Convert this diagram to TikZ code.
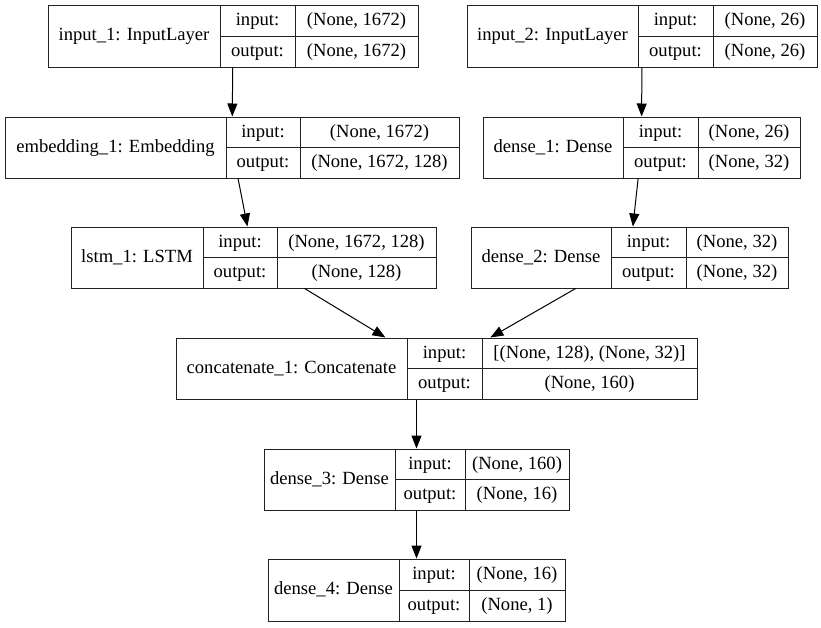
\documentclass[tikz,border=0pt]{standalone}
\usepackage{fontspec}
\setmainfont{Liberation Serif}
\usepackage{tikz}
\usetikzlibrary{arrows.meta,positioning,calc}
\definecolor{layerline}{HTML}{222222}
\tikzset{
  layerbox/.style={draw=layerline, line width=1pt, inner sep=0pt, minimum height=61pt},
  cellrule/.style={draw=layerline, line width=1pt},
  celltxt/.style={inner sep=0pt, text height=13pt, text depth=4pt, font=\fontsize{18.6}{22}\selectfont},
  flow/.style={-{Triangle[length=13pt,width=10pt]}, line width=1pt, color=black}
}

\begin{document}
\begin{tikzpicture}[x=1pt,y=-1pt]
\useasboundingbox (0,0) rectangle (821,627);

% input_1
\node[layerbox, minimum width=370pt, minimum height=62pt] (in1) at (233,36) {};
\draw[cellrule] (220,5) -- (220,67) (295,5) -- (295,67) (220,36) -- (418,36);
\node[celltxt] (in1-name) at (134,36) {input\_1: InputLayer};
\node[celltxt] (in1-inl) at (257.5,20.5) {input:};
\node[celltxt] (in1-outl) at (257.5,51.5) {output:};
\node[celltxt] (in1-inv) at (356.5,20.5) {(None, 1672)};
\node[celltxt] (in1-outv) at (356.5,51.5) {(None, 1672)};

% input_2
\node[layerbox, minimum width=350pt, minimum height=62pt] (in2) at (642,36) {};
\draw[cellrule] (638,5) -- (638,67) (713,5) -- (713,67) (638,36) -- (817,36);
\node[celltxt] (in2-name) at (552.5,36) {input\_2: InputLayer};
\node[celltxt] (in2-inl) at (675.5,20.5) {input:};
\node[celltxt] (in2-outl) at (675.5,51.5) {output:};
\node[celltxt] (in2-inv) at (765,20.5) {(None, 26)};
\node[celltxt] (in2-outv) at (765,51.5) {(None, 26)};

% embedding_1
\node[layerbox, minimum width=454pt] (emb) at (232,147.5) {};
\draw[cellrule] (226,117) -- (226,178) (300,117) -- (300,178) (226,147.5) -- (459,147.5);
\node[celltxt] (emb-name) at (115.5,147.5) {embedding\_1: Embedding};
\node[celltxt] (emb-inl) at (263,132.5) {input:};
\node[celltxt] (emb-outl) at (263,163) {output:};
\node[celltxt] (emb-inv) at (379.5,132.5) {(None, 1672)};
\node[celltxt] (emb-outv) at (379.5,163) {(None, 1672, 128)};

% dense_1
\node[layerbox, minimum width=317pt] (d1) at (641.5,147.5) {};
\draw[cellrule] (623,117) -- (623,178) (698,117) -- (698,178) (623,147.5) -- (800,147.5);
\node[celltxt] (d1-name) at (553,147.5) {dense\_1: Dense};
\node[celltxt] (d1-inl) at (660.5,132.5) {input:};
\node[celltxt] (d1-outl) at (660.5,163) {output:};
\node[celltxt] (d1-inv) at (749,132.5) {(None, 26)};
\node[celltxt] (d1-outv) at (749,163) {(None, 32)};

% lstm_1
\node[layerbox, minimum width=365pt] (lstm) at (253.5,257.5) {};
\draw[cellrule] (203,227) -- (203,288) (277,227) -- (277,288) (203,257.5) -- (436,257.5);
\node[celltxt] (lstm-name) at (137,257.5) {lstm\_1: LSTM};
\node[celltxt] (lstm-inl) at (240,242.5) {input:};
\node[celltxt] (lstm-outl) at (240,273) {output:};
\node[celltxt] (lstm-inv) at (356.5,242.5) {(None, 1672, 128)};
\node[celltxt] (lstm-outv) at (356.5,273) {(None, 128)};

% dense_2
\node[layerbox, minimum width=317pt] (d2) at (629.5,257.5) {};
\draw[cellrule] (611,227) -- (611,288) (686,227) -- (686,288) (611,257.5) -- (788,257.5);
\node[celltxt] (d2-name) at (541,257.5) {dense\_2: Dense};
\node[celltxt] (d2-inl) at (648.5,242.5) {input:};
\node[celltxt] (d2-outl) at (648.5,273) {output:};
\node[celltxt] (d2-inv) at (737,242.5) {(None, 32)};
\node[celltxt] (d2-outv) at (737,273) {(None, 32)};

% concatenate_1
\node[layerbox, minimum width=521pt] (cc) at (436.5,368.5) {};
\draw[cellrule] (407,338) -- (407,399) (482,338) -- (482,399) (407,368.5) -- (697,368.5);
\node[celltxt] (cc-name) at (291.5,368.5) {concatenate\_1: Concatenate};
\node[celltxt] (cc-inl) at (444.5,353.5) {input:};
\node[celltxt] (cc-outl) at (444.5,384) {output:};
\node[celltxt] (cc-inv) at (589.5,353.5) {[(None, 128), (None, 32)]};
\node[celltxt] (cc-outv) at (589.5,384) {(None, 160)};

% dense_3
\node[layerbox, minimum width=305pt] (d3) at (416.5,479.5) {};
\draw[cellrule] (395,449) -- (395,510) (465,449) -- (465,510) (395,479.5) -- (569,479.5);
\node[celltxt] (d3-name) at (329.5,479.5) {dense\_3: Dense};
\node[celltxt] (d3-inl) at (430,464.5) {input:};
\node[celltxt] (d3-outl) at (430,495) {output:};
\node[celltxt] (d3-inv) at (517,464.5) {(None, 160)};
\node[celltxt] (d3-outv) at (517,495) {(None, 16)};

% dense_4
\node[layerbox, minimum width=297pt, minimum height=62pt] (d4) at (416.5,590) {};
\draw[cellrule] (399,559) -- (399,621) (469,559) -- (469,621) (399,590) -- (565,590);
\node[celltxt] (d4-name) at (333.5,590) {dense\_4: Dense};
\node[celltxt] (d4-inl) at (434,574.5) {input:};
\node[celltxt] (d4-outl) at (434,605.5) {output:};
\node[celltxt] (d4-inv) at (517,574.5) {(None, 16)};
\node[celltxt] (d4-outv) at (517,605.5) {(None, 1)};

% connectors
\draw[flow] (in1) -- (emb);
\draw[flow] (emb) -- (lstm);
\draw[flow] (in2) -- (d1);
\draw[flow] (d1) -- (d2);
\draw[flow] (lstm) -- (cc);
\draw[flow] (d2) -- (cc);
\draw[flow] (cc.south -| d3.north) -- (d3.north);
\draw[flow] (d3) -- (d4);
\end{tikzpicture}
\end{document}
